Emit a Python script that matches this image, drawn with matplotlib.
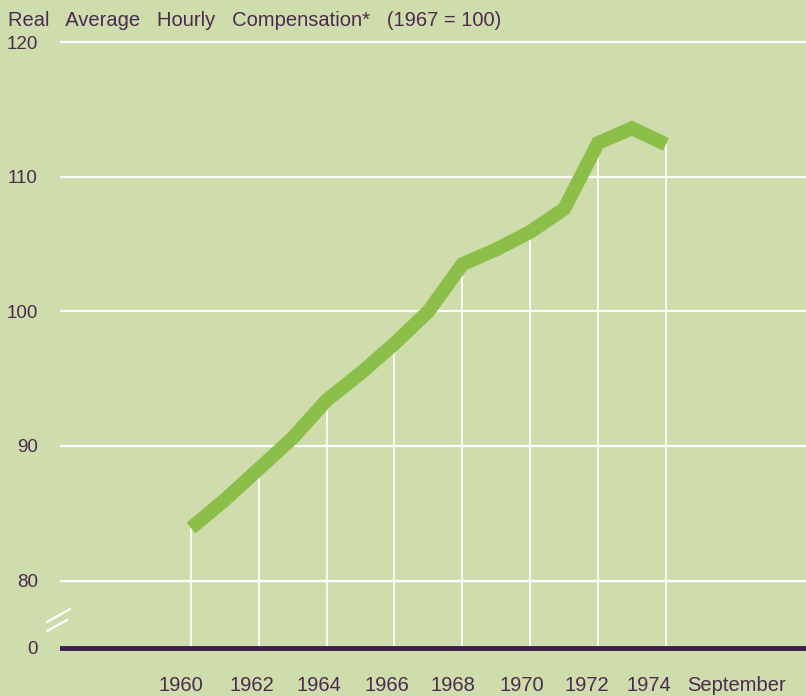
import matplotlib.pyplot as plt
import numpy as np

# data (1967 = 100)
years = np.arange(1960, 1975)
compensation = [83.9, 86.0, 88.3, 90.6, 93.4, 95.4, 97.6, 100.0,
                103.5, 104.6, 105.9, 107.6, 112.5, 113.6, 112.4]

y_ticks = [75, 80, 90, 100, 110, 120]
y_tick_labels = ["0", "80", "90", "100", "110", "120"]
# labels sit a little left of their drop lines in the original
x_label_pos = [1959.71, 1961.80, 1963.77, 1965.78, 1967.72, 1969.76, 1971.67, 1973.50, 1976.09]
x_tick_labels = ["1960", "1962", "1964", "1966", "1968", "1970", "1972", "1974", "September"]

title = "Real   Average   Hourly   Compensation*   (1967 = 100)"

bg = "#cfdcab"
line_green = "#8cbf4a"
ink = "#4a2c50"
base_purple = "#3b1f4c"

plt.rcParams['font.family'] = ['Liberation Sans', 'DejaVu Sans']

fig = plt.figure(figsize=(8.06, 6.96), dpi=100, facecolor=bg)
ax = fig.add_axes([60 / 806, 1 - 654.7 / 696, 746 / 806, (654.7 - 38) / 696])
ax.set_facecolor(bg)

ax.set_xlim(1956.14, 1978.13)
ax.set_ylim(74.5, 120.3)

# white horizontal grid
for g in [80, 90, 100, 110, 120]:
    ax.axhline(g, color="white", lw=1.6, zorder=1)

# vertical drop lines at even years
even = years % 2 == 0
ax.vlines(years[even], 75, np.array(compensation)[even], color="white", lw=1.3, zorder=1)

# baseline (broken axis, labelled 0)
ax.axhline(75, color=base_purple, lw=3.5, zorder=3)

# data line
ax.plot(years, compensation, color=line_green, lw=10, solid_capstyle="butt",
        solid_joinstyle="miter", zorder=4)

for s in ax.spines.values():
    s.set_visible(False)

ax.set_yticks(y_ticks)
ax.set_yticklabels(y_tick_labels)
ax.set_xticks(x_label_pos)
ax.set_xticklabels(x_tick_labels)
ax.tick_params(axis="y", length=0, pad=16, labelsize=13.5, labelcolor=ink)
ax.tick_params(axis="x", length=0, pad=15, labelsize=14.5, labelcolor=ink)

# axis break marks
fig.add_artist(plt.Line2D([47 / 806, 70 / 806], [1 - 622 / 696, 1 - 609 / 696],
                          color="white", lw=1.6))
fig.add_artist(plt.Line2D([47 / 806, 67 / 806], [1 - 631 / 696, 1 - 620 / 696],
                          color="white", lw=1.6))

fig.text(8 / 806, 1 - 20 / 696, title, fontsize=14.5, color=ink, va="center", ha="left")

fig.savefig("out.png", dpi=100, facecolor=bg)
